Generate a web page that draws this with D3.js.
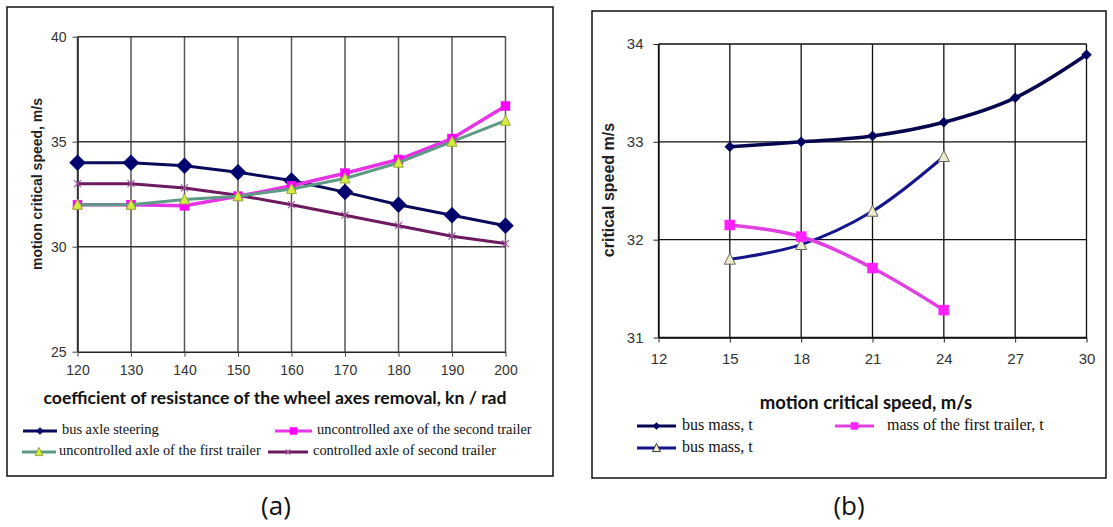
<!DOCTYPE html>
<html><head><meta charset="utf-8">
<script src="https://cdn.jsdelivr.net/npm/d3@7"></script>
<style>html,body{margin:0;padding:0;background:#fff;}svg{display:block;}</style>
</head><body>
<svg id="c" width="1113" height="527"></svg>
<script>
// ---------- Data: panel (a) ----------
const xA = [120,130,140,150,160,170,180,190,200];
const xTicksA = [120,130,140,150,160,170,180,190,200];
const yTicksA = [25,30,35,40];
const busAxleSteering   = [34.0,34.0,33.85,33.55,33.15,32.6,32.0,31.5,31.0];
const uncontrolledSecond = [32.0,32.0,31.95,32.4,32.9,33.5,34.15,35.15,36.7];
const uncontrolledFirst  = [32.0,32.0,32.25,32.4,32.75,33.25,34.0,35.0,36.0];
const controlledSecond   = [33.0,33.0,32.8,32.45,32.0,31.5,31.0,30.5,30.15];
const namesA = ["bus axle steering","uncontrolled axe of the second trailer","uncontrolled axle of the first trailer","controlled axle of second trailer"];

// ---------- Data: panel (b) ----------
const xB1 = [15,18,21,24,27,30];
const xB2 = [15,18,21,24];
const xTicksB = [12,15,18,21,24,27,30];
const yTicksB = [31,32,33,34];
const busMassA = [32.95,33.0,33.06,33.2,33.45,33.89];
const busMassB = [31.8,31.95,32.29,32.85];
const firstTrailerMass = [32.15,32.03,31.71,31.28];
const namesB = ["bus mass, t","mass of the first trailer, t","bus mass, t"];

const svg = d3.select("#c");
const SANS = "'Liberation Sans', Arial, sans-serif";
const SERIF = "'Liberation Serif', 'Times New Roman', serif";
const TITLE = "Lato, 'Open Sans', sans-serif";

function marker(g, type, x, y, s, fill, stroke, sw){
  if(type==="diamond"){
    g.append("path").attr("d", d3.symbol(d3.symbolSquare, s*s*0.5)())
      .attr("transform",`translate(${x},${y}) rotate(45)`).attr("fill",fill).attr("stroke",stroke||fill).attr("stroke-width",sw||0.5);
  } else if(type==="square"){
    g.append("rect").attr("x",x-s/2).attr("y",y-s/2).attr("width",s).attr("height",s).attr("fill",fill).attr("stroke",stroke||fill).attr("stroke-width",sw||0.5);
  } else if(type==="triangle"){
    const h=s*0.9;
    g.append("path").attr("d",`M${x},${y-h/2-1}L${x+s/2},${y+h/2}L${x-s/2},${y+h/2}Z`).attr("fill",fill).attr("stroke",stroke).attr("stroke-width",sw||1);
  } else if(type==="x"){
    const r=s/2;
    g.append("path").attr("d",`M${x-r},${y-r}L${x+r},${y+r}M${x-r},${y+r}L${x+r},${y-r}`).attr("stroke",stroke).attr("stroke-width",sw||1.2).attr("fill","none");
  }
}

// ================= PANEL (a) =================
svg.append("rect").attr("x",7).attr("y",7).attr("width",546).attr("height",469).attr("fill","#fff").attr("stroke","#111").attr("stroke-width",1.5);
const ga = svg.append("g");
const sxA = d3.scaleLinear().domain([120,200]).range([77.5,505.5]);
const syA = d3.scaleLinear().domain([25,40]).range([351.7,36.7]);

ga.selectAll(".vg").data(xTicksA).join("line").attr("x1",d=>sxA(d)).attr("x2",d=>sxA(d)).attr("y1",syA(40)).attr("y2",syA(25)).attr("stroke","#555").attr("stroke-width",1.5);
ga.selectAll(".hg").data(yTicksA.filter(d=>d>25)).join("line").attr("x1",sxA(120)).attr("x2",sxA(200)).attr("y1",d=>syA(d)).attr("y2",d=>syA(d)).attr("stroke","#333").attr("stroke-width",1.5);

const axA = ga.append("g").attr("transform",`translate(0,${syA(25)})`)
  .call(d3.axisBottom(sxA).tickValues(xTicksA).tickFormat(d3.format("d")).tickSize(5).tickPadding(8).tickSizeOuter(0));
const ayA = ga.append("g").attr("transform",`translate(${sxA(120)},0)`)
  .call(d3.axisLeft(syA).tickValues(yTicksA).tickFormat(d3.format("d")).tickSize(5).tickPadding(6).tickSizeOuter(0));
[axA,ayA].forEach(a=>{
  a.select(".domain").attr("stroke","#222").attr("stroke-width",1.5);
  a.selectAll(".tick line").attr("stroke","#444");
  a.selectAll("text").attr("font-family",SANS).attr("font-size",14).attr("fill","#333");
});

const lineA = d3.line().x((d,i)=>sxA(xA[i])).y(d=>syA(d));
const seriesA = [
  {v:busAxleSteering, line:"#0a0a5a", w:3, m:"diamond", ms:16, fill:"#00006e", stroke:"#00006e"},
  {v:controlledSecond, line:"#6e1a60", w:3, m:"x", ms:7, fill:"none", stroke:"#a0559a"},
  {v:uncontrolledSecond, line:"#e533e5", w:3.5, m:"square", ms:9, fill:"#ff00ff", stroke:"#ff00ff"},
  {v:uncontrolledFirst, line:"#5e9a86", w:3, m:"triangle", ms:10, fill:"#d4ee3a", stroke:"#9aaa40"}
];
seriesA.forEach(s=>{
  ga.append("path").datum(s.v).attr("d",lineA).attr("fill","none").attr("stroke",s.line).attr("stroke-width",s.w).attr("stroke-linejoin","round");
  s.v.forEach((d,i)=>marker(ga,s.m,sxA(xA[i]),syA(d),s.ms,s.fill,s.stroke));
});

ga.append("text").attr("transform","translate(38,184) rotate(-90)").attr("text-anchor","middle").attr("dominant-baseline","middle")
  .attr("font-family",SANS).attr("font-weight","bold").attr("font-size",14).attr("fill","#222").text("motion critical speed, m/s");
ga.append("text").attr("x",275).attr("y",399).attr("text-anchor","middle").attr("dominant-baseline","middle")
  .attr("font-family",TITLE).attr("font-weight","bold").attr("font-size",17.6).attr("fill","#111")
  .text("coefficient of resistance of the wheel axes removal, kn / rad");

const legA = [
  {x1:23,x2:57,tx:62,y:431,name:namesA[0],line:"#0a0a5a",m:"diamond",ms:7,fill:"#00006e",stroke:"#00006e"},
  {x1:275,x2:312,tx:317,y:431,name:namesA[1],line:"#e533e5",m:"square",ms:7,fill:"#ff00ff",stroke:"#ff00ff"},
  {x1:22,x2:56,tx:59,y:452,name:namesA[2],line:"#5e9a86",m:"triangle",ms:8,fill:"#d4ee3a",stroke:"#9aaa40"},
  {x1:268,x2:308,tx:313,y:452,name:namesA[3],line:"#6e1a60",m:"x",ms:5,fill:"none",stroke:"#a0559a"}
];
legA.forEach(l=>{
  ga.append("line").attr("x1",l.x1).attr("x2",l.x2).attr("y1",l.y).attr("y2",l.y).attr("stroke",l.line).attr("stroke-width",3);
  marker(ga,l.m,(l.x1+l.x2)/2,l.y,l.ms,l.fill,l.stroke);
  ga.append("text").attr("x",l.tx).attr("y",l.y).attr("dominant-baseline","middle").attr("font-family",SERIF).attr("font-size",14.4).attr("fill","#111").text(l.name);
});
svg.append("text").attr("x",276).attr("y",508).attr("text-anchor","middle").attr("dominant-baseline","middle")
  .attr("font-family","'Open Sans', 'Noto Sans', sans-serif").attr("font-size",26).attr("fill","#111").text("(a)");

// ================= PANEL (b) =================
svg.append("rect").attr("x",592).attr("y",11).attr("width",514).attr("height",467).attr("fill","#fff").attr("stroke","#111").attr("stroke-width",1.5);
const gb = svg.append("g");
const sxB = d3.scaleLinear().domain([12,30]).range([658.5,1086.5]);
const syB = d3.scaleLinear().domain([31,34]).range([337.5,44]);

gb.selectAll(".vg").data(xTicksB).join("line").attr("x1",d=>sxB(d)).attr("x2",d=>sxB(d)).attr("y1",syB(34)).attr("y2",syB(31)).attr("stroke","#111").attr("stroke-width",1.3);
gb.selectAll(".hg").data(yTicksB).join("line").attr("x1",sxB(12)).attr("x2",sxB(30)).attr("y1",d=>syB(d)).attr("y2",d=>syB(d)).attr("stroke","#111").attr("stroke-width",1.3);

const axB = gb.append("g").attr("transform",`translate(0,${syB(31)})`)
  .call(d3.axisBottom(sxB).tickValues(xTicksB).tickFormat(d3.format("d")).tickSize(5).tickPadding(11).tickSizeOuter(0));
const ayB = gb.append("g").attr("transform",`translate(${sxB(12)},0)`)
  .call(d3.axisLeft(syB).tickValues(yTicksB).tickFormat(d3.format("d")).tickSize(5).tickPadding(10).tickSizeOuter(0));
[axB,ayB].forEach(a=>{
  a.select(".domain").attr("stroke","#111").attr("stroke-width",1.3);
  a.selectAll(".tick line").attr("stroke","#222");
  a.selectAll("text").attr("font-family",SANS).attr("font-size",15).attr("fill","#333");
});

const curve = d3.curveCatmullRom.alpha(0.5);
const seriesB = [
  {xs:xB2, v:busMassB, line:"#14148c", w:3, m:"triangle", ms:11, fill:"#ecebcf", stroke:"#6a6a5a"},
  {xs:xB2, v:firstTrailerMass, line:"#e040e0", w:3.5, m:"square", ms:10, fill:"#ff20ff", stroke:"#ff20ff"},
  {xs:xB1, v:busMassA, line:"#06064e", w:3.5, m:"diamond", ms:10, fill:"#000060", stroke:"#000060"}
];
seriesB.forEach(s=>{
  const ln = d3.line().x((d,i)=>sxB(s.xs[i])).y(d=>syB(d)).curve(curve);
  gb.append("path").datum(s.v).attr("d",ln).attr("fill","none").attr("stroke",s.line).attr("stroke-width",s.w).attr("stroke-linejoin","round");
  s.v.forEach((d,i)=>marker(gb,s.m,sxB(s.xs[i]),syB(d),s.ms,s.fill,s.stroke));
});

gb.append("text").attr("transform","translate(610,190) rotate(-90)").attr("text-anchor","middle").attr("dominant-baseline","middle")
  .attr("font-family",SANS).attr("font-weight","bold").attr("font-size",16).attr("fill","#222").text("critical speed m/s");
gb.append("text").attr("x",866).attr("y",404).attr("text-anchor","middle").attr("dominant-baseline","middle")
  .attr("font-family",TITLE).attr("font-weight","bold").attr("font-size",18.5).attr("fill","#111")
  .text("motion critical speed, m/s");

const legB = [
  {x1:637,x2:676,tx:682,y:426,name:namesB[0],line:"#06064e",m:"diamond",ms:7,fill:"#000060",stroke:"#000060"},
  {x1:835,x2:874,tx:887,y:426,name:namesB[1],line:"#e040e0",m:"square",ms:7,fill:"#ff20ff",stroke:"#ff20ff"},
  {x1:637,x2:676,tx:682,y:448,name:namesB[2],line:"#14148c",m:"triangle",ms:8,fill:"#ecebcf",stroke:"#333"}
];
legB.forEach(l=>{
  gb.append("line").attr("x1",l.x1).attr("x2",l.x2).attr("y1",l.y).attr("y2",l.y).attr("stroke",l.line).attr("stroke-width",3);
  marker(gb,l.m,(l.x1+l.x2)/2,l.y,l.ms,l.fill,l.stroke);
  gb.append("text").attr("x",l.tx).attr("y",l.y).attr("dominant-baseline","middle").attr("font-family",SERIF).attr("font-size",16).attr("fill","#111").text(l.name);
});
svg.append("text").attr("x",849).attr("y",508).attr("text-anchor","middle").attr("dominant-baseline","middle")
  .attr("font-family","'Open Sans', 'Noto Sans', sans-serif").attr("font-size",26).attr("fill","#111").text("(b)");
</script>
</body></html>
